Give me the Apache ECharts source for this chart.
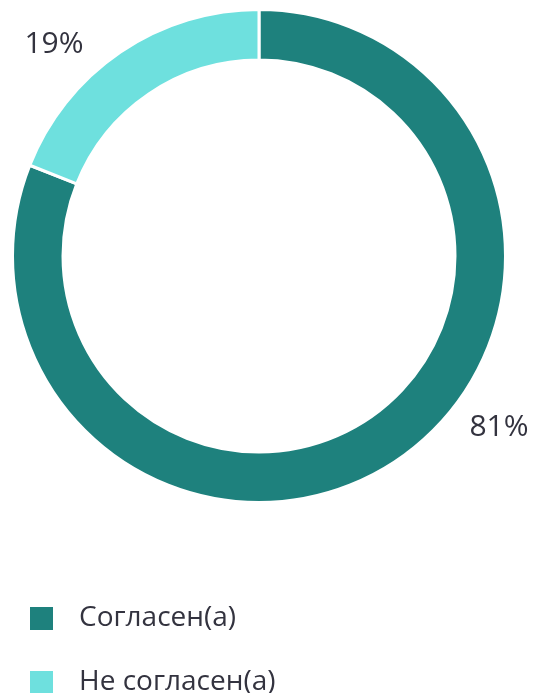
<!DOCTYPE html>
<html><head><meta charset="utf-8">
<script src="https://cdn.jsdelivr.net/npm/echarts@6/dist/echarts.min.js"></script>
<style>html,body{margin:0;padding:0;background:#fff}#c{width:534px;height:693px}</style>
</head><body><div id="c"></div>
<script>
const categories = ['Согласен(а)', 'Не согласен(а)'];
const values = [81, 19];
const colors = ['#1e817d', '#6ee0de'];
const labelPos = [[499, 427], [54, 44]];

const chart = echarts.init(document.getElementById('c'), null, {renderer: 'canvas'});
chart.setOption({
  animation: false,
  color: colors,
  legend: {
    type: 'plain',
    orient: 'vertical',
    left: 28, top: 604,
    height: 200,
    padding: 0,
    itemWidth: 25, itemHeight: 25, itemGap: 35,
    icon: 'rect',
    data: categories,
    textStyle: {fontFamily: 'Open Sans', fontSize: 28, lineHeight: 25, color: '#33333f', padding: [0, 0, 4, 20]}
  },
  series: [{
    type: 'pie',
    center: [259, 256],
    radius: [196, 246.5],
    startAngle: 90,
    clockwise: true,
    itemStyle: {borderColor: '#fff', borderWidth: 3},
    label: {
      show: true, position: 'outside',
      formatter: p => p.value + '%',
      fontFamily: 'Open Sans', fontSize: 30, color: '#33333f'
    },
    labelLine: {show: false},
    labelLayout: p => ({x: labelPos[p.dataIndex][0], y: labelPos[p.dataIndex][1], align: 'center', verticalAlign: 'middle'}),
    data: categories.map((c, i) => ({name: c, value: values[i]}))
  }]
});
</script></body></html>
